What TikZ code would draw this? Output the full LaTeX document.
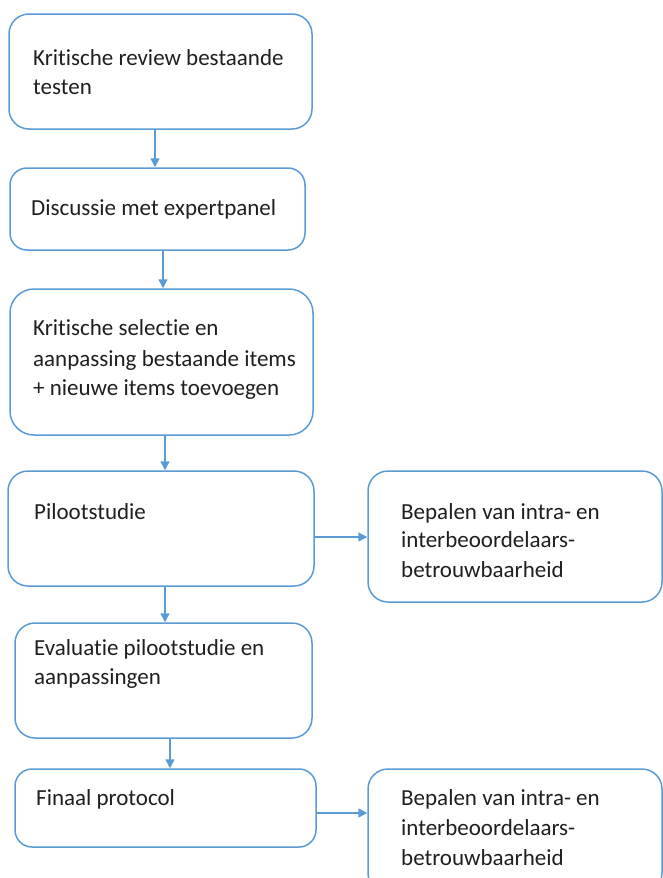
\documentclass[tikz,border=0pt]{standalone}
\usepackage{fontspec}
\setmainfont[Ligatures={NoCommon}]{Carlito}
\usetikzlibrary{arrows.meta}
\definecolor{lineblue}{HTML}{5B9BD5}
\tikzset{
  box/.style={draw=lineblue, line width=1.5pt, rounded corners=20pt, inner sep=0pt},
  arr/.style={draw=lineblue, line width=1.5pt, -{Triangle[width=9pt,length=9pt]}},
  lbl/.style={anchor=base west, inner sep=0pt, font=\fontsize{23}{27}\selectfont, text=black!88}
}
\begin{document}
\begin{tikzpicture}[x=1pt,y=-1pt]
\useasboundingbox (0,0) rectangle (663,878);
% boxes
\node[box, minimum width=303pt, minimum height=115pt] (b1) at (160.5,71.5) {};
\node[box, minimum width=295pt, minimum height=82pt, rounded corners=17pt] (b2) at (157.5,209) {};
\node[box, minimum width=303pt, minimum height=146pt, rounded corners=24pt] (b3) at (161.5,362) {};
\node[box, minimum width=306pt, minimum height=115pt] (b4) at (161,528.5) {};
\node[box, minimum width=294pt, minimum height=131pt] (r1) at (515,536.5) {};
\node[box, minimum width=297pt, minimum height=115pt] (b5) at (163.5,680.5) {};
\node[box, minimum width=301pt, minimum height=78pt, rounded corners=17pt] (b6) at (165.5,808) {};
\node[box, minimum width=294pt, minimum height=124pt] (r2) at (515,831) {};
% texts
\node[lbl] (t1a) at (33,65) {Kritische review bestaande};
\node[lbl] (t1b) at (33,94) {testen};
\node[lbl] (t2a) at (31,215) {Discussie met expertpanel};
\node[lbl] (t3a) at (33,335) {Kritische selectie en};
\node[lbl] (t3b) at (33,366) {aanpassing bestaande items};
\node[lbl] (t3c) at (33,395) {+ nieuwe items toevoegen};
\node[lbl] (t4a) at (34,519) {Pilootstudie};
\node[lbl] (r1a) at (401,519) {Bepalen van intra- en};
\node[lbl] (r1b) at (401,547) {interbeoordelaars-};
\node[lbl] (r1c) at (401,577) {betrouwbaarheid};
\node[lbl] (t5a) at (34,655) {Evaluatie pilootstudie en};
\node[lbl] (t5b) at (34,684) {aanpassingen};
\node[lbl] (t6a) at (36,805) {Finaal protocol};
\node[lbl] (r2a) at (401,805) {Bepalen van intra- en};
\node[lbl] (r2b) at (401,835) {interbeoordelaars-};
\node[lbl] (r2c) at (401,865) {betrouwbaarheid};
% connectors
\draw[arr] (b1.south -| 155,0) -- (b2.north -| 155,0);
\draw[arr] (b2.south -| 163,0) -- (b3.north -| 163,0);
\draw[arr] (b3.south -| 165,0) -- (b4.north -| 165,0);
\draw[arr] (b4.south -| 165,0) -- (b5.north -| 165,0);
\draw[arr] (b5.south -| 170,0) -- (b6.north -| 170,0);
\draw[arr] (b4.east |- 0,537) -- (r1.west |- 0,537);
\draw[arr] (b6.east |- 0,813) -- (r2.west |- 0,813);
\end{tikzpicture}
\end{document}
